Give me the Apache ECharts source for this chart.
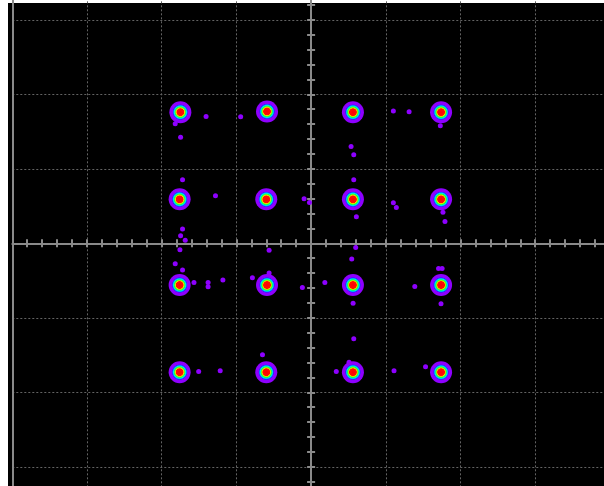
<!DOCTYPE html>
<html><head><meta charset="utf-8">
<script src="https://cdn.jsdelivr.net/npm/echarts@6/dist/echarts.min.js"></script>
<style>html,body{margin:0;padding:0;background:#fff}#c{width:604px;height:486px}</style>
</head><body><div id="c"></div>
<script>
// 16-QAM constellation centres (I, Q) in screen divisions
const symbolsI = [-1.75, -0.59, 0.56, 1.74, -1.76, -0.60, 0.56, 1.74, -1.76, -0.59, 0.56, 1.74, -1.76, -0.60, 0.56, 1.74];
const symbolsQ = [1.76, 1.77, 1.76, 1.76, 0.59, 0.59, 0.59, 0.59, -0.56, -0.56, -0.56, -0.56, -1.73, -1.73, -1.73, -1.73];
// stray (noise) samples
const strayI = [-1.406,-1.819,-1.747,-0.943,1.101,1.312,1.730,0.535,0.571,-1.721,-1.280,-0.094,-0.022,0.571,0.606,1.101,1.141,1.792,1.765,-1.721,-1.747,-1.685,-1.756,-1.819,-1.721,-1.568,-1.379,-1.379,-1.181,-0.562,-0.786,-0.562,-0.117,0.184,0.597,0.544,0.562,1.388,1.706,1.754,1.739,0.571,0.508,0.337,-0.651,-1.505,-1.217,1.110,1.532];
const strayQ = [1.703,1.604,1.424,1.698,1.775,1.765,1.577,1.298,1.190,0.854,0.638,0.597,0.548,0.854,0.355,0.544,0.481,0.292,0.418,0.193,0.103,0.040,-0.085,-0.274,-0.359,-0.526,-0.526,-0.584,-0.494,-0.094,-0.463,-0.400,-0.593,-0.526,-0.058,-0.211,-0.804,-0.580,-0.337,-0.337,-0.813,-1.280,-1.595,-1.721,-1.496,-1.721,-1.712,-1.712,-1.658];
const axisTicks = [-4,-3,-2,-1,0,1,2,3,4];

const constData = symbolsI.map((v,i)=>[v, symbolsQ[i]]);
const strayData = strayI.map((v,i)=>[v, strayQ[i]]);

const chart = echarts.init(document.getElementById('c'));
const PURPLE = '#8e00ff';
const blobColor = {
  type:'radial', x:0.5, y:0.5, r:0.5,
  colorStops:[
    {offset:0, color:'#ff0000'},{offset:0.32, color:'#ff1000'},
    {offset:0.37, color:'#ffcc00'},{offset:0.43, color:'#80ff00'},
    {offset:0.49, color:'#00ff60'},{offset:0.55, color:'#00e8e8'},
    {offset:0.61, color:'#0090ff'},{offset:0.67, color:'#3020ff'},
    {offset:0.72, color:PURPLE},{offset:1, color:PURPLE}
  ]
};
const gridLine = {show:true, lineStyle:{color:'#636363', type:[2,2], width:1}};
const tickStyle = {color:'#8a8a8a', width:2};
const axBase = {type:'value', min:axisTicks[0], max:axisTicks[axisTicks.length-1], interval:1,
  axisLabel:{show:false}};
chart.setOption({
  backgroundColor:'#fff',
  animation:false,
  graphic:[{type:'rect', z:-10, shape:{x:8, y:3, width:600, height:490}, style:{fill:'#000'}}],
  grid:{left:12.3, top:-54.7, width:597.6, height:596, outerBoundsMode:'none', containLabel:false},
  xAxis:[
    Object.assign({}, axBase, {position:'bottom', splitLine:gridLine,
      axisLine:{onZero:true, lineStyle:tickStyle},
      axisTick:{show:true, inside:false, length:4, lineStyle:tickStyle},
      minorTick:{show:true, splitNumber:5, length:4, lineStyle:tickStyle}}),
    Object.assign({}, axBase, {position:'top', splitLine:{show:false},
      axisLine:{show:false, onZero:true},
      axisTick:{show:true, inside:false, length:4, lineStyle:tickStyle},
      minorTick:{show:true, splitNumber:5, length:4, lineStyle:tickStyle}})
  ],
  yAxis:[
    Object.assign({}, axBase, {position:'left', splitLine:gridLine,
      axisLine:{onZero:true, lineStyle:tickStyle},
      axisTick:{show:true, inside:false, length:4, lineStyle:tickStyle},
      minorTick:{show:true, splitNumber:5, length:4, lineStyle:tickStyle}}),
    Object.assign({}, axBase, {position:'right', splitLine:{show:false},
      axisLine:{show:false, onZero:true},
      axisTick:{show:true, inside:false, length:4, lineStyle:tickStyle},
      minorTick:{show:true, splitNumber:5, length:4, lineStyle:tickStyle}})
  ],
  series:[
    {type:'scatter', data:strayData, symbolSize:5, itemStyle:{color:PURPLE, opacity:1}, silent:true,
     markLine:{silent:true, symbol:'none', label:{show:false}, lineStyle:{color:'#8a8a8a', type:'solid', width:2},
       data:[{xAxis:axisTicks[0]}]}},
    {type:'scatter', data:constData, symbolSize:22, itemStyle:{color:blobColor, opacity:1}, silent:true}
  ]
});
</script></body></html>
